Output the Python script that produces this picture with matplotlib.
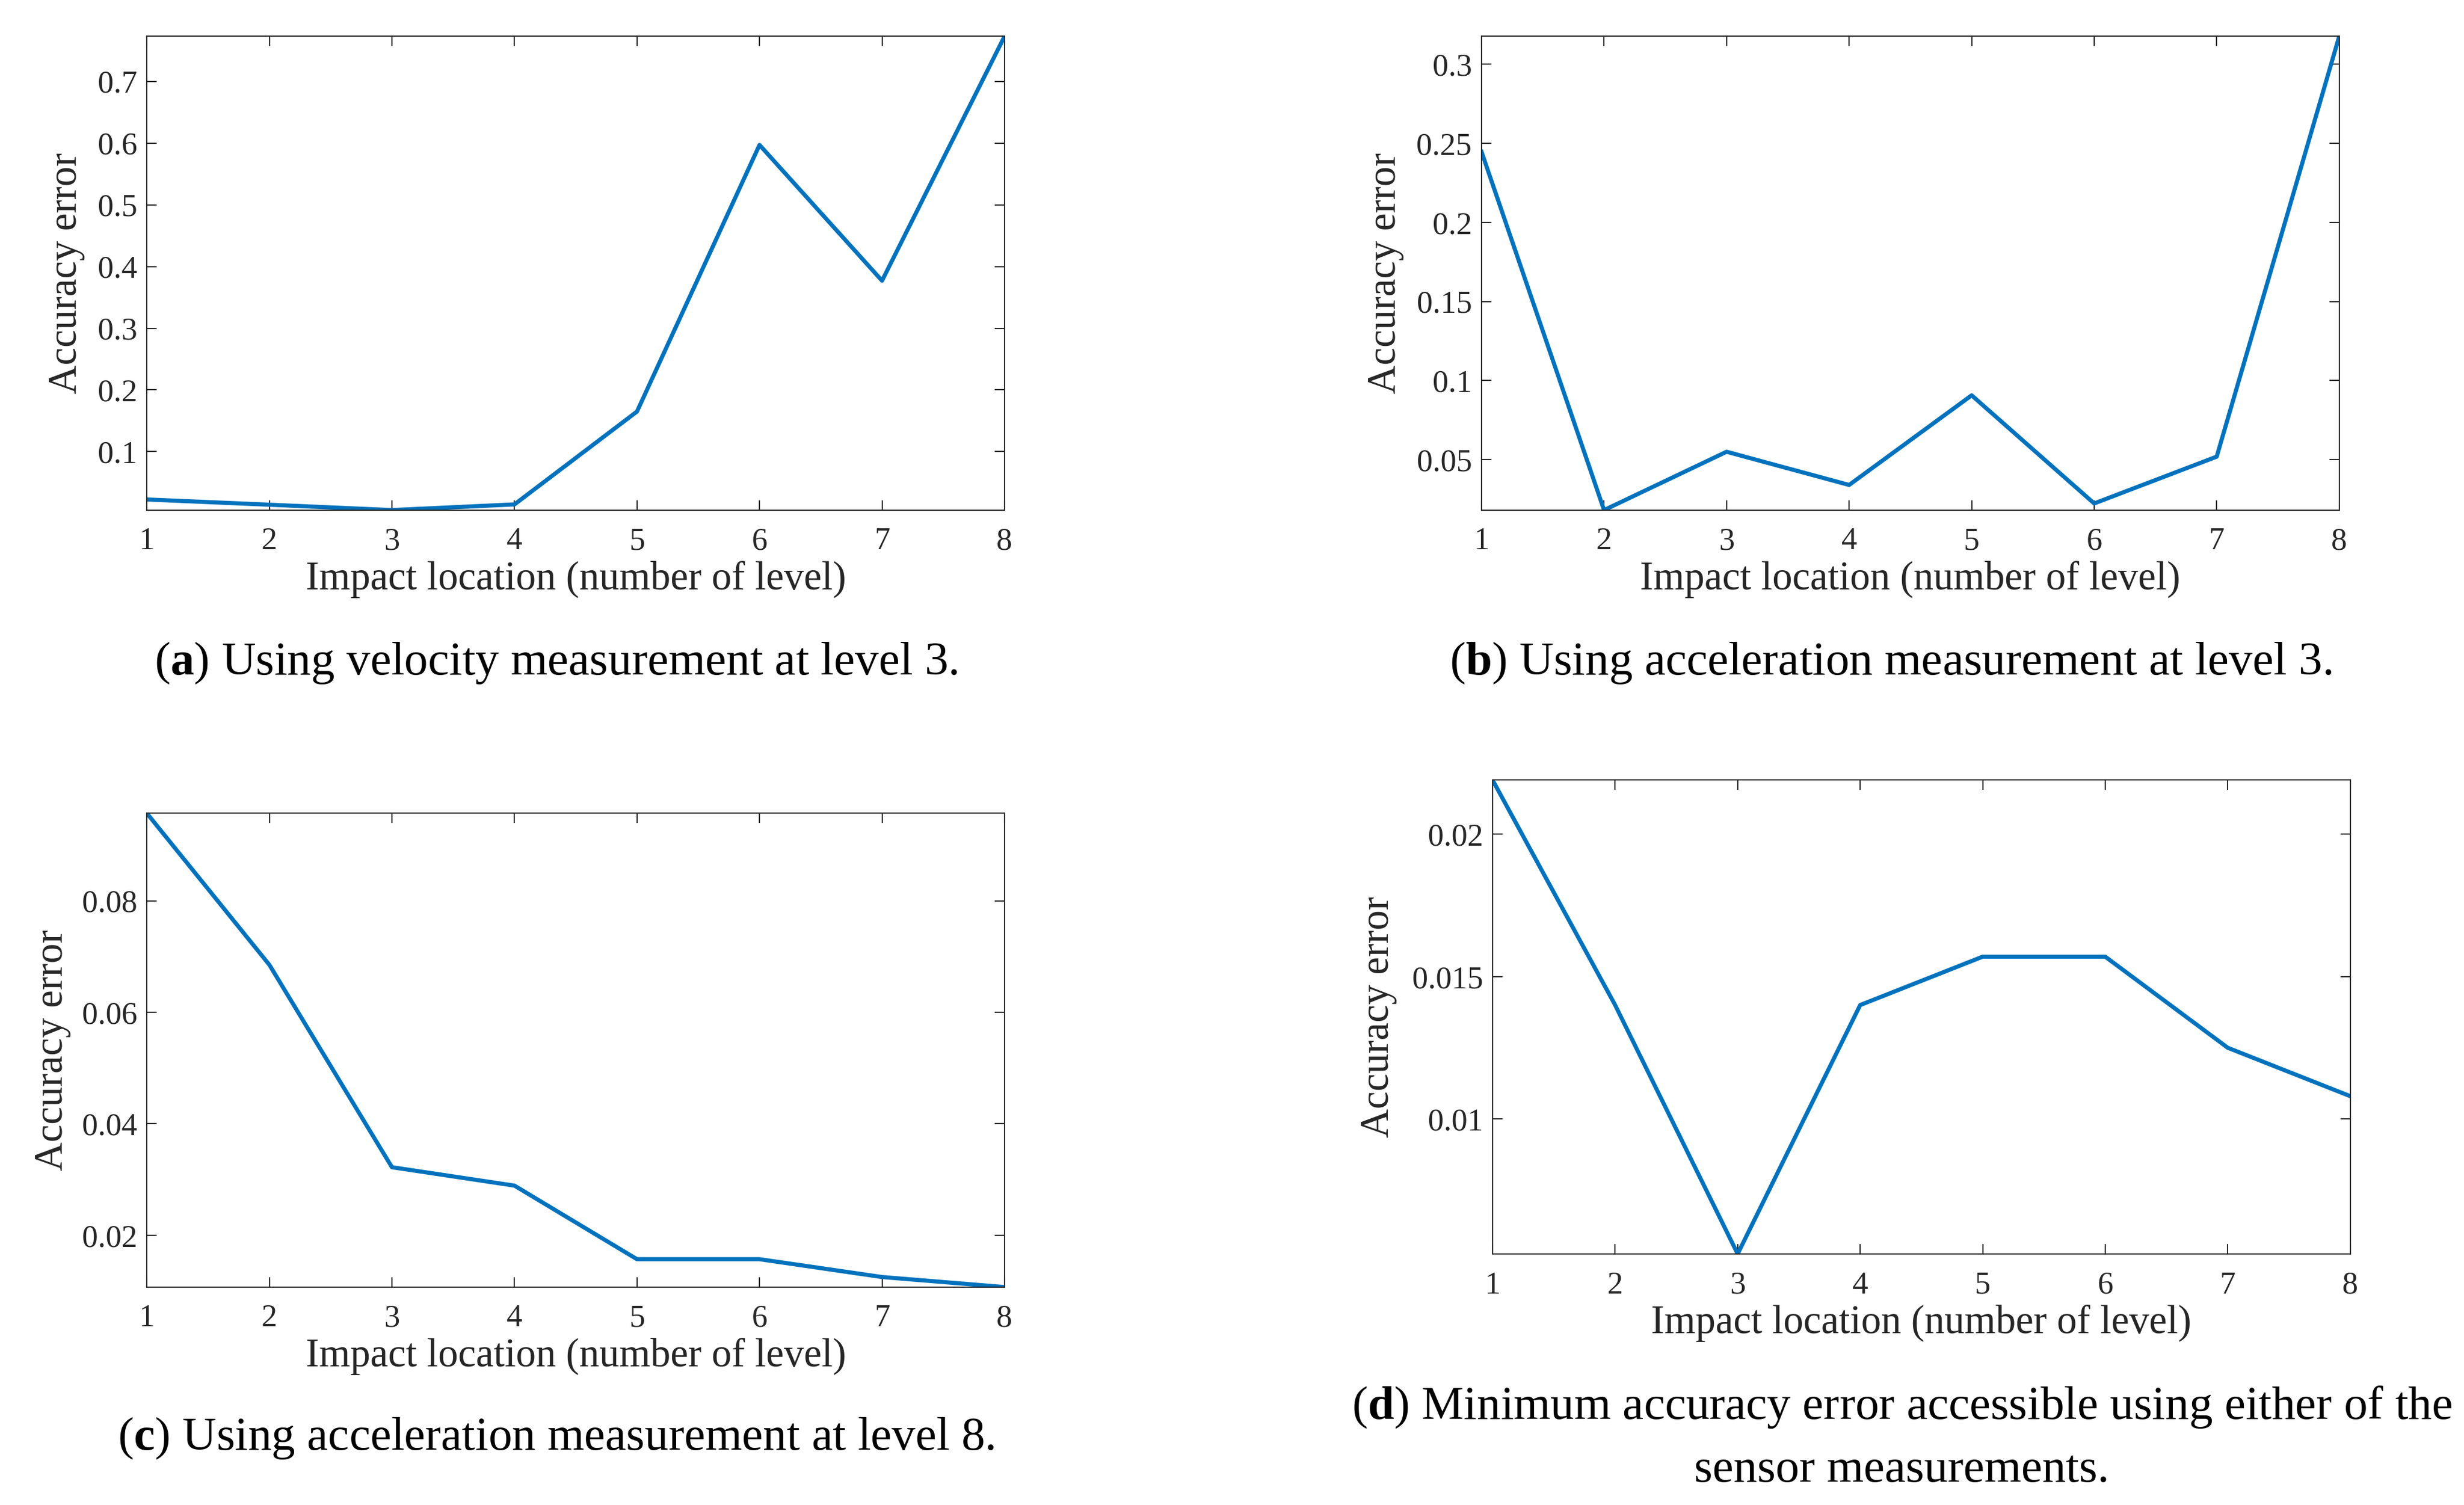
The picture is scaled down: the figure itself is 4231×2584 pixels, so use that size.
import matplotlib
matplotlib.use("Agg")
import matplotlib.pyplot as plt
import numpy as np

plt.rcParams["font.family"] = ["Liberation Serif", "DejaVu Serif"]
plt.rcParams["mathtext.fontset"] = "custom"
plt.rcParams["mathtext.rm"] = "Liberation Serif"
plt.rcParams["mathtext.bf"] = "Liberation Serif:bold"

levels = [1, 2, 3, 4, 5, 6, 7, 8]

# (a) velocity measurement at level 3
err_vel_l3 = [0.0225, 0.014, 0.0053, 0.0145, 0.165, 0.597, 0.377, 0.773]
# (b) acceleration measurement at level 3
err_acc_l3 = [0.2446, 0.018, 0.0549, 0.0339, 0.0906, 0.0222, 0.0518, 0.3177]
# (c) acceleration measurement at level 8
err_acc_l8 = [0.0957, 0.0685, 0.0322, 0.0289, 0.0157, 0.0157, 0.0125, 0.0107]
# (d) minimum over the sensor measurements
err_min = [0.0219, 0.0140, 0.00526, 0.0140, 0.0157, 0.0157, 0.0125, 0.0108]

yticks_a = [0.1, 0.2, 0.3, 0.4, 0.5, 0.6, 0.7]
yticks_b = [0.05, 0.1, 0.15, 0.2, 0.25, 0.3]
yticks_c = [0.02, 0.04, 0.06, 0.08]
yticks_d = [0.01, 0.015, 0.02]

captions = [
    r"($\mathbf{a}$) Using velocity measurement at level 3.",
    r"($\mathbf{b}$) Using acceleration measurement at level 3.",
    r"($\mathbf{c}$) Using acceleration measurement at level 8.",
    r"($\mathbf{d}$) Minimum accuracy error accessible using either of the",
    "sensor measurements.",
]

W, H = 1560.0, 953.0  # layout units
line_color = "#0072BD"
ink = "#262626"

fig = plt.figure(figsize=(4231 / 300, 2584 / 300), dpi=300)


def make_axes(x0, x1, y0, y1):
    return fig.add_axes([x0 / W, 1 - y1 / H, (x1 - x0) / W, (y1 - y0) / H])


def style(ax, y, yticks, ylab_x):
    ax.plot(levels, y, color=line_color, lw=1.7)
    ax.set_xlim(1, 8)
    ax.set_ylim(min(y), max(y))
    ax.set_xticks(levels)
    ax.set_yticks(yticks)
    ax.set_yticklabels([f"{t:g}" for t in yticks])
    ax.tick_params(direction="in", top=True, right=True, length=4,
                   width=0.5, colors=ink, labelsize=13)
    ax.tick_params(axis="x", pad=7)
    ax.tick_params(axis="y", pad=4)
    for s in ax.spines.values():
        s.set_linewidth(0.5)
        s.set_color(ink)
    ax.set_xlabel("Impact location (number of level)", fontsize=16.5, color=ink)
    ax.set_ylabel("Accuracy error", fontsize=16.5, color=ink)
    ax.xaxis.set_label_coords(0.5, -0.147)
    ax.xaxis.label.set_va("center")
    ax.yaxis.set_label_coords(ylab_x, 0.5)
    ax.yaxis.label.set_va("center")


ax_a = make_axes(93, 636, 23, 323)
style(ax_a, err_vel_l3, yticks_a, -0.094)
ax_b = make_axes(938, 1481, 23, 323)
style(ax_b, err_acc_l3, yticks_b, -0.112)
ax_c = make_axes(93, 636, 515, 815)
style(ax_c, err_acc_l8, yticks_c, -0.11)
ax_d = make_axes(945, 1488, 494, 794)
style(ax_d, err_min, yticks_d, -0.133)

cap_kw = dict(ha="center", va="center", fontsize=19.5, color="black")
fig.text(352 / W, 1 - 420 / H, captions[0], **cap_kw)
fig.text(1197 / W, 1 - 420 / H, captions[1], **cap_kw)
fig.text(352 / W, 1 - 911 / H, captions[2], **cap_kw)
fig.text(1204 / W, 1 - 891 / H, captions[3], **cap_kw)
fig.text(1204 / W, 1 - 931 / H, captions[4], **cap_kw)

fig.savefig("out.png", dpi=300, facecolor="white")
